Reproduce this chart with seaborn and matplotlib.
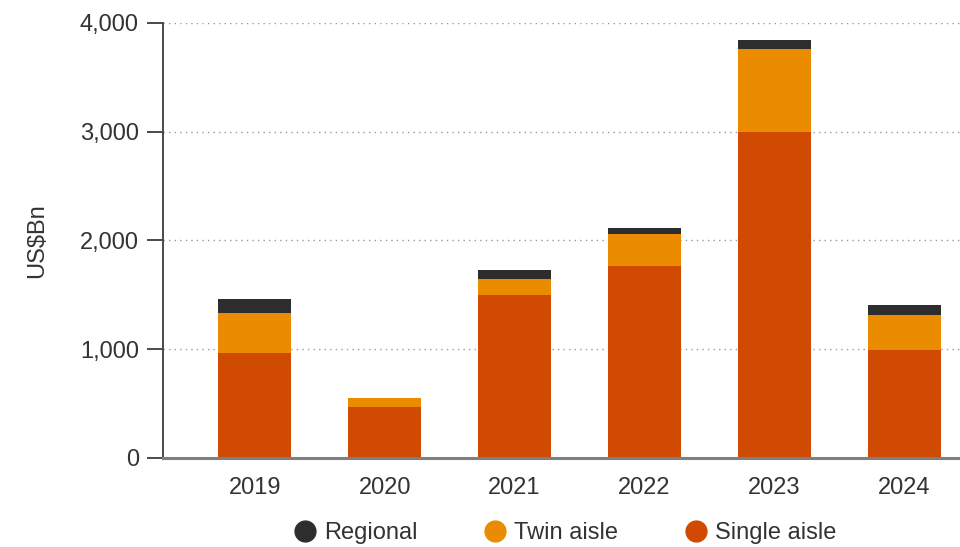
import numpy as np
import pandas as pd
import matplotlib
matplotlib.use("Agg")
import matplotlib.pyplot as plt
from matplotlib.lines import Line2D
from matplotlib.ticker import FuncFormatter
import seaborn as sns

years = ["2019", "2020", "2021", "2022", "2023", "2024"]
single_aisle = [966, 468, 1500, 1767, 3000, 990]
twin_aisle = [369, 83, 147, 295, 763, 324]
regional = [129, 0, 83, 55, 83, 92]

series_names = ["Regional", "Twin aisle", "Single aisle"]
colors = {"Single aisle": "#D04A02", "Twin aisle": "#EB8C00", "Regional": "#2D2D2D"}

sns.set_theme(style="white")
plt.rcParams["font.family"] = ["Liberation Sans", "DejaVu Sans"]
text_color = "#333333"

fig = plt.figure(figsize=(9.6, 5.47), dpi=100)
ax = fig.add_axes([0.17, 0.163, 0.83, 0.795])

df = pd.DataFrame({
    "year": years,
    "Single aisle": single_aisle,
    "Twin aisle": twin_aisle,
    "Regional": regional,
})

bottom = np.zeros(len(years))
for name in ["Single aisle", "Twin aisle", "Regional"]:
    sns.barplot(data=df, x="year", y=name, order=years, color=colors[name],
                width=0.56, bottom=bottom, saturation=1, ax=ax,
                linewidth=0, zorder=3)
    bottom = bottom + df[name].to_numpy()

ax.set_xlim(-0.704, 5.427)
ax.set_ylim(0, 4000)
ax.set_yticks([0, 1000, 2000, 3000, 4000])
ax.yaxis.set_major_formatter(FuncFormatter(lambda v, p: f"{int(v):,}"))

ax.grid(axis="y", linestyle=(0, (1, 3)), color="#9a9a9a", linewidth=1, zorder=0)
ax.grid(axis="x", visible=False)

for s in ["top", "right"]:
    ax.spines[s].set_visible(False)
ax.spines["left"].set_color("#4a4a4a")
ax.spines["left"].set_linewidth(1.4)
ax.spines["bottom"].set_color("#7f7f7f")
ax.spines["bottom"].set_linewidth(2.2)
ax.spines["bottom"].set_zorder(4)

ax.tick_params(axis="y", direction="out", length=11.5, width=1.4,
               color="#4a4a4a", labelsize=17, labelcolor=text_color, pad=6, left=True)
ax.tick_params(axis="x", length=0, labelsize=17, labelcolor=text_color, pad=14)

ax.set_xlabel("")
ax.set_ylabel("US$Bn", fontsize=17, color=text_color, labelpad=23)

handles = [Line2D([0], [0], marker="o", linestyle="", markersize=15,
                  markerfacecolor=colors[n], markeredgecolor=colors[n])
           for n in series_names]
fig.legend(handles, series_names, loc="center", bbox_to_anchor=(0.587, 0.025),
           ncol=3, frameon=False, fontsize=17, labelcolor=text_color,
           handletextpad=0.2, columnspacing=2.7, handlelength=1.2)

fig.savefig("out.png", dpi=100, facecolor="white")
